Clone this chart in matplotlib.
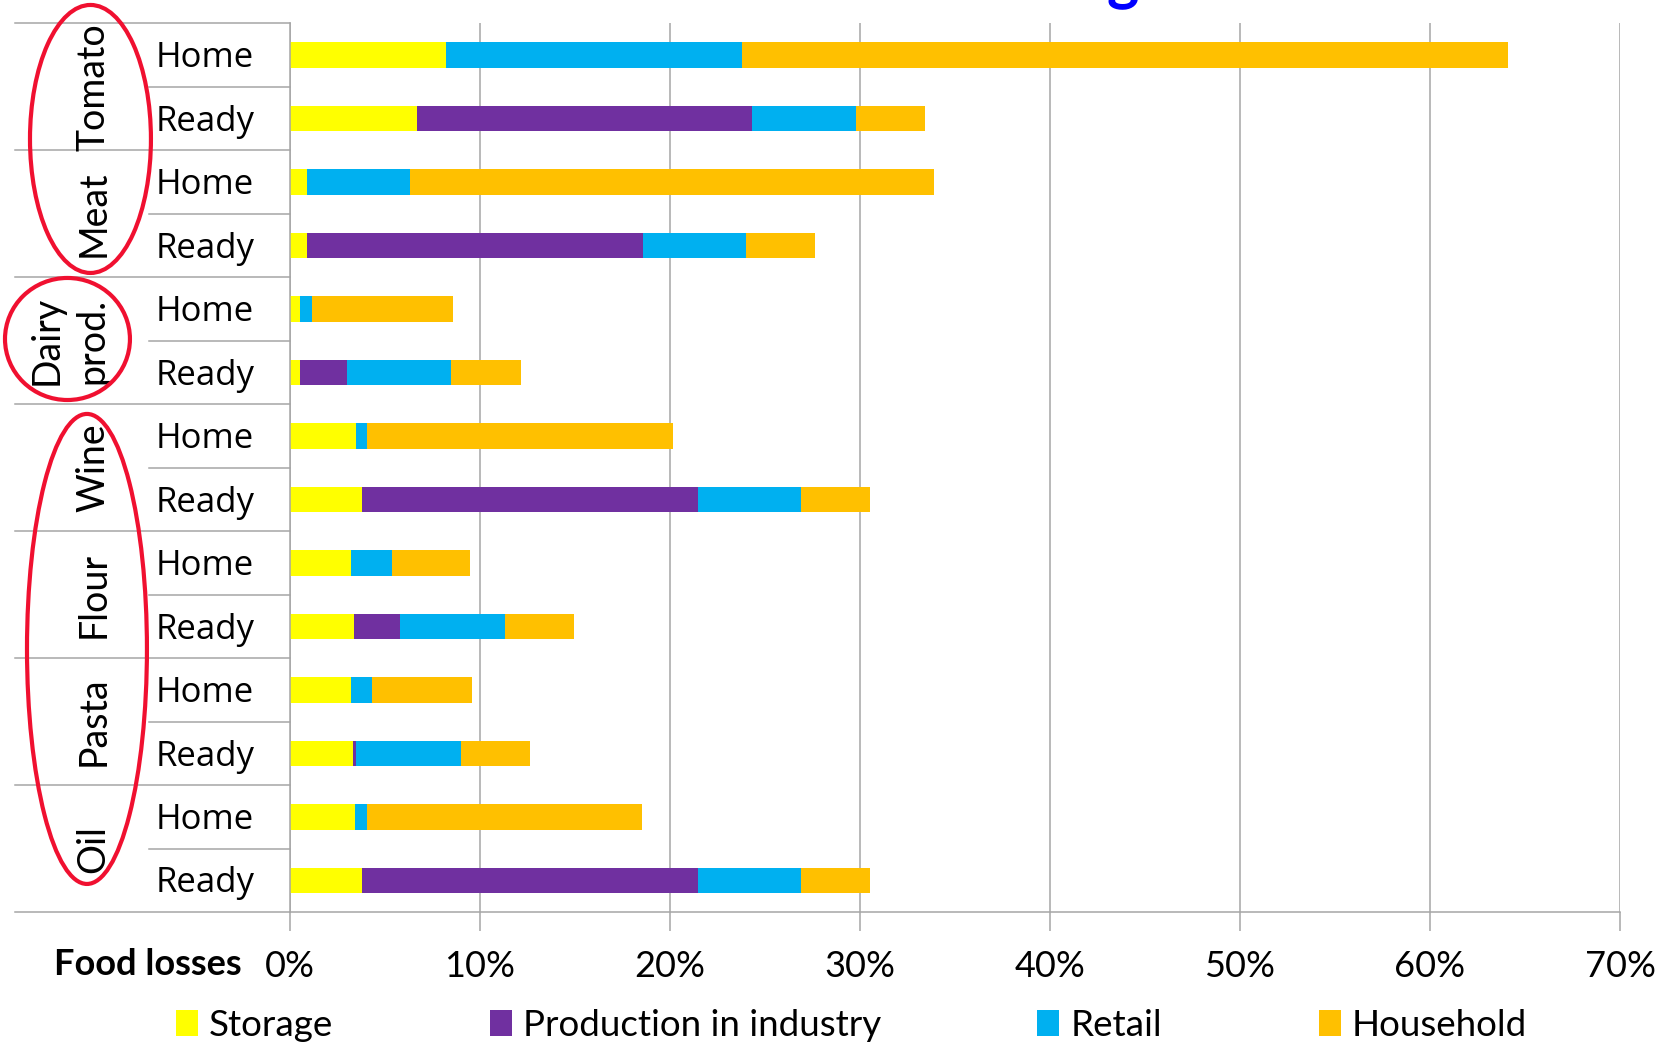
import matplotlib
matplotlib.use("Agg")
from matplotlib import pyplot as plt
from matplotlib.patches import Ellipse
import numpy as np

# Data (percent of food lost)
products = ["Tomato", "Meat", "Dairy\nprod.", "Wine", "Flour", "Pasta", "Oil"]
variants = ["Home", "Ready"]
stages = ["Storage", "Production in industry", "Retail", "Household"]

storage = [8.2, 6.7, 0.9, 0.9, 0.55, 0.55, 3.5, 3.8, 3.2, 3.4, 3.2, 3.3, 3.45, 3.8]
production = [0.0, 17.6, 0.0, 17.7, 0.0, 2.45, 0.0, 17.7, 0.0, 2.4, 0.0, 0.2, 0.0, 17.7]
retail = [15.6, 5.5, 5.4, 5.4, 0.6, 5.5, 0.55, 5.4, 2.15, 5.5, 1.1, 5.5, 0.6, 5.4]
household = [40.3, 3.65, 27.6, 3.65, 7.45, 3.65, 16.1, 3.65, 4.15, 3.65, 5.3, 3.65, 14.5, 3.65]

colors = ["#FFFF00", "#7030A0", "#00B0F0", "#FFC000"]
GRID = "#A6A6A6"

plt.rcParams['font.family'] = ['Lato', 'DejaVu Sans']

fig = plt.figure(figsize=(16.66, 10.44), dpi=100)
ax = fig.add_axes([0.174, 0.1264, 0.7984, 0.8512])

rows = np.arange(len(storage))
series = [storage, production, retail, household]
left = np.zeros(len(rows))
for vals, col, name in zip(series, colors, stages):
    ax.barh(rows, vals, left=left, height=0.4, color=col, label=name, linewidth=0)
    left += np.array(vals)

ax.set_xlim(0, 70)
ax.set_ylim(len(rows) - 0.5, -0.5)
ax.set_xticks(np.arange(0, 71, 10))
ax.set_xticklabels([f"{v}%" for v in range(0, 71, 10)], fontsize=26)
ax.set_yticks([])
ax.tick_params(axis='x', length=14, width=1.1, color=GRID, pad=13)
ax.grid(axis='x', color=GRID, linewidth=1.1)
ax.set_axisbelow(True)
for side in ['top', 'right']:
    ax.spines[side].set_visible(False)
for side in ['left', 'bottom']:
    ax.spines[side].set_color(GRID)
    ax.spines[side].set_linewidth(1.1)

# category table on the left
tr = ax.get_yaxis_transform()
for i in range(len(rows) + 1):
    y = i - 0.5
    x0 = -0.2068 if i % 2 == 0 else -0.106
    ax.plot([x0, 0], [y, y], transform=tr, color=GRID, lw=1.1, clip_on=False)
for i in rows:
    ax.text(-0.1012, i + 0.05, variants[i % 2], transform=tr, ha='left', va='center',
            fontsize=25, family=['Open Sans', 'DejaVu Sans'])
for g, name in enumerate(products):
    xpos = -0.1655 if "\n" in name else -0.1477
    ax.text(xpos, 2 * g + 0.5, name, transform=tr, rotation=90, ha='center', va='center',
            fontsize=27, linespacing=1.35)

# red circles around groups
for cx, cy, w, h in [(0.0543, 0.8669, 0.0726, 0.2567),
                     (0.0405, 0.6753, 0.0750, 0.1169),
                     (0.0522, 0.3784, 0.0720, 0.4502)]:
    fig.add_artist(Ellipse((cx, cy), w, h, transform=fig.transFigure,
                           fill=False, edgecolor='#F01030', linewidth=3))

fig.text(0.1453, 0.0757, "Food losses", ha='right', va='center', fontsize=26, fontweight='bold')
# cut-off title at the very top
fig.text(0.674, 1.003, "g", ha='center', va='baseline', fontsize=44, fontweight='bold', color='#0000FF')

fig.legend(loc='center', bbox_to_anchor=(0.511, 0.018), ncol=4, frameon=False, fontsize=26.5,
           handlelength=0.6, handleheight=0.7, handletextpad=0.3, columnspacing=4.25,
           borderpad=0, borderaxespad=0)

fig.savefig("out.png", dpi=100)
